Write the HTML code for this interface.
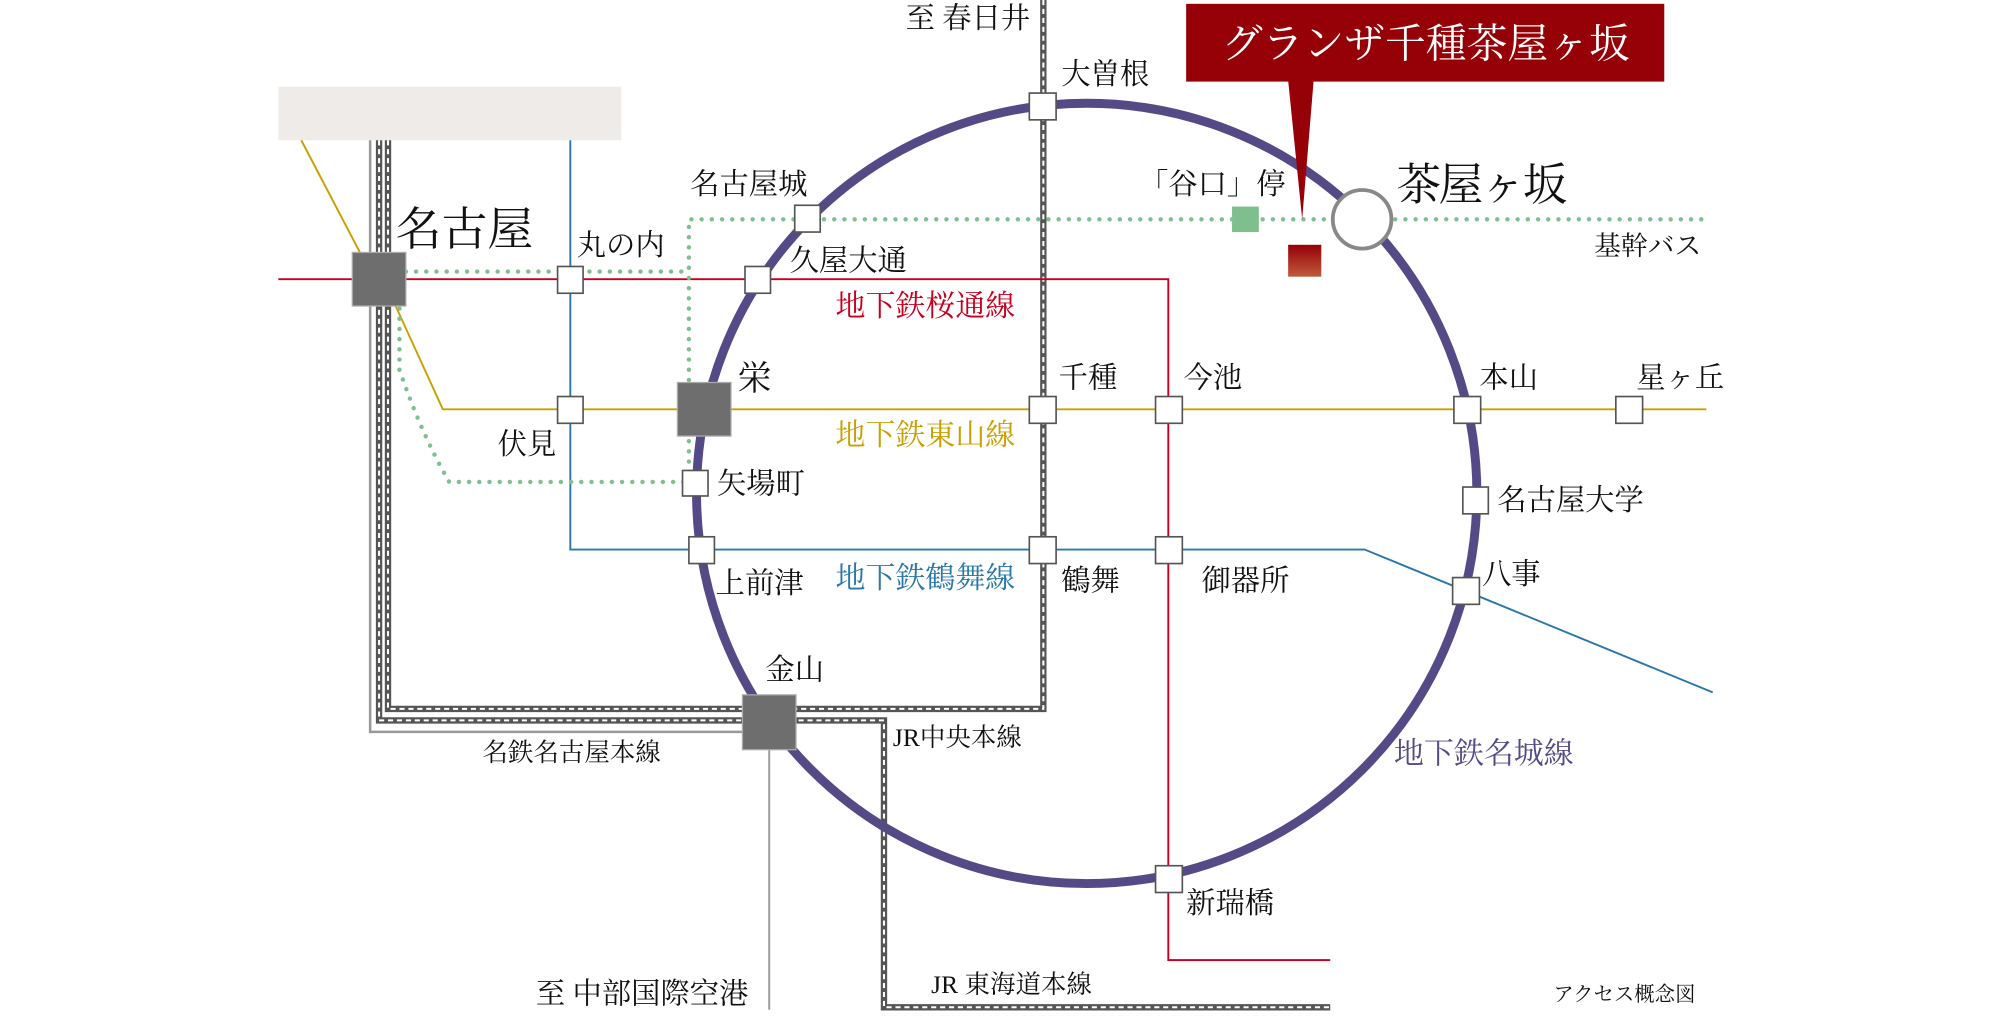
<!DOCTYPE html>
<html><head><meta charset="utf-8"><style>
html,body{margin:0;padding:0;background:#fff;}
svg{display:block;}
text{font-family:"Liberation Serif","Noto Serif CJK SC","Noto Serif CJK JP",serif;fill:#111;}
</style></head><body>
<svg width="2000" height="1020" viewBox="0 0 1568 800" xmlns="http://www.w3.org/2000/svg">
<rect x="0" y="0" width="1568" height="800" fill="#fff"/>
<rect x="218" y="68" width="269" height="42" fill="#efebe8"/>

<polyline points="290,110 290,574 603,574" fill="none" stroke="#999" stroke-width="2"/>
<line x1="603" y1="580" x2="603" y2="792" stroke="#999" stroke-width="1.5"/>
<polyline points="818,0 818,556 304,556 304,110" fill="none" stroke="#555" stroke-width="5"/>
<polyline points="818,0 818,556 304,556 304,110" fill="none" stroke="#fff" stroke-width="1.6" stroke-dasharray="4,3"/>
<polyline points="297,110 297,565 693,565 693,790 1043,790" fill="none" stroke="#555" stroke-width="5"/>
<polyline points="297,110 297,565 693,565 693,790 1043,790" fill="none" stroke="#fff" stroke-width="1.6" stroke-dasharray="4,3"/>

<polyline points="236,110 282,198" fill="none" stroke="#c9a000" stroke-width="1.5"/>
<polyline points="310,240 347,321 1338,321" fill="none" stroke="#c9a000" stroke-width="1.5"/>
<polyline points="218,219 916,219 916,753 1043,753" fill="none" stroke="#c8001e" stroke-width="1.5"/>
<polyline points="447,110 447,431 1070,431 1343,543" fill="none" stroke="#2a78aa" stroke-width="1.5"/>

<circle cx="852" cy="387" r="306" fill="none" stroke="#564a86" stroke-width="7"/>

<g fill="none" stroke="#80c090" stroke-width="3.5" stroke-linecap="round" stroke-dasharray="0,8">
<polyline points="318,213 540,213"/>
<polyline points="540,378 540,172 1338,172"/>
<path d="M313,242 L313,290 Q330,340 352,378 L540,378"/>
</g>

<polygon points="1010,63 1030,63 1021,172" fill="#960007"/>
<rect x="930" y="3" width="375" height="61" fill="#960007"/>
<text x="1118" y="45" text-anchor="middle" font-size="32" style="fill:#fff">グランザ千種茶屋ヶ坂</text>
<defs><linearGradient id="g" x1="0" y1="0" x2="0" y2="1"><stop offset="0" stop-color="#960007"/><stop offset="1" stop-color="#c05a3c"/></linearGradient></defs>
<rect x="1010" y="192" width="26" height="25" fill="url(#g)"/>
<rect x="966" y="162" width="21" height="20" fill="#7fbf8e"/>

<circle cx="1068" cy="172" r="23" fill="#fff" stroke="#888" stroke-width="3"/>

<g fill="#6e6e6e" stroke="#aaa" stroke-width="1">
<rect x="276" y="198" width="42" height="42"/>
<rect x="531" y="300" width="42" height="42"/>
<rect x="582" y="545" width="42" height="43"/>
</g>

<g fill="#fff" stroke="#555" stroke-width="1.3">
<rect x="437" y="209" width="20" height="21"/>
<rect x="437" y="311" width="20" height="21"/>
<rect x="584" y="209" width="20" height="21"/>
<rect x="623" y="161" width="20" height="21"/>
<rect x="535" y="369" width="20" height="20"/>
<rect x="540" y="421" width="20" height="21"/>
<rect x="807" y="73" width="21" height="21"/>
<rect x="807" y="311" width="21" height="21"/>
<rect x="906" y="311" width="21" height="21"/>
<rect x="807" y="421" width="21" height="21"/>
<rect x="906" y="421" width="21" height="21"/>
<rect x="1140" y="311" width="21" height="21"/>
<rect x="1267" y="311" width="21" height="21"/>
<rect x="1147" y="382" width="20" height="21"/>
<rect x="1139" y="453" width="21" height="21"/>
<rect x="906" y="679" width="21" height="21"/>
</g>

<g font-size="23">
<text x="710" y="22">至 春日井</text>
<text x="832" y="66">大曽根</text>
<text x="541" y="152">名古屋城</text>
<text x="452" y="200">丸の内</text>
<text x="619" y="212">久屋大通</text>
<text x="655" y="248" font-size="23.5" style="fill:#c8001e">地下鉄桜通線</text>
<text x="893" y="152">「谷口」停</text>
<text x="1250" y="200" font-size="21">基幹バス</text>
<text x="830" y="304">千種</text>
<text x="928" y="304">今池</text>
<text x="1160" y="304">本山</text>
<text x="1283" y="304">星ヶ丘</text>
<text x="390" y="356">伏見</text>
<text x="655" y="349" font-size="23.5" style="fill:#c9a000">地下鉄東山線</text>
<text x="562" y="387">矢場町</text>
<text x="1174" y="400">名古屋大学</text>
<text x="1162" y="458">八事</text>
<text x="561" y="465">上前津</text>
<text x="655" y="461" font-size="23.5" style="fill:#2a78aa">地下鉄鶴舞線</text>
<text x="832" y="463">鶴舞</text>
<text x="942" y="463">御器所</text>
<text x="600" y="533">金山</text>
<text x="700" y="585" font-size="20">JR中央本線</text>
<text x="378" y="597" font-size="20">名鉄名古屋本線</text>
<text x="1093" y="599" font-size="23.5" style="fill:#564a86">地下鉄名城線</text>
<text x="930" y="716">新瑞橋</text>
<text x="420" y="787">至 中部国際空港</text>
<text x="730" y="779" font-size="20">JR 東海道本線</text>
<text x="1218" y="785" font-size="16">アクセス概念図</text>
<text x="310" y="192" font-size="36">名古屋</text>
<text x="578" y="306" font-size="27">栄</text>
<text x="1095" y="157" font-size="35" letter-spacing="-2">茶屋ヶ坂</text>
</g>
</svg>
</body></html>
